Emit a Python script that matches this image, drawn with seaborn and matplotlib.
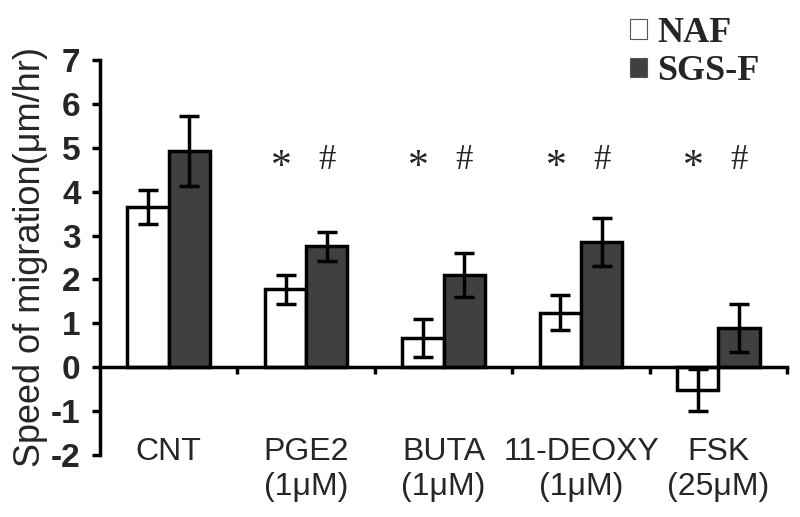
import pandas as pd
import matplotlib.pyplot as plt
import seaborn as sns
from matplotlib.patches import Patch

groups = ['CNT', 'PGE2\n(1μM)', 'BUTA\n(1μM)', '11-DEOXY\n(1μM)', 'FSK\n(25μM)']
series = ['NAF', 'SGS-F']
naf = [3.65, 1.78, 0.66, 1.24, -0.52]
naf_err = [0.38, 0.33, 0.43, 0.40, 0.48]
sgs = [4.93, 2.76, 2.10, 2.86, 0.90]
sgs_err = [0.80, 0.33, 0.50, 0.55, 0.55]
sig_naf = ['', '*', '*', '*', '*']
sig_sgs = ['', '#', '#', '#', '#']
colors = {'NAF': 'white', 'SGS-F': '#404040'}

df = pd.DataFrame({
    'group': groups * 2,
    'speed': naf + sgs,
    'series': [series[0]] * 5 + [series[1]] * 5,
})

sns.set_style('white')
plt.rcParams['font.family'] = ['Liberation Sans', 'DejaVu Sans']
plt.rcParams['axes.unicode_minus'] = False

fig, ax = plt.subplots(figsize=(8, 5.17), dpi=100)
fig.subplots_adjust(left=0.125, right=0.984, top=0.884, bottom=0.12)

lw = 2.5
sns.barplot(data=df, x='group', y='speed', hue='series', order=groups,
            hue_order=series, palette=colors,
            edgecolor='black', linewidth=lw, width=0.6, errorbar=None,
            legend=False, ax=ax)

# error bars and significance marks on top of the seaborn bars
for cont, vals, errs, sig in zip(ax.containers, [naf, sgs], [naf_err, sgs_err],
                                 [sig_naf, sig_sgs]):
    xs = [p.get_x() + p.get_width() / 2 for p in cont.patches]
    ax.errorbar(xs, vals, yerr=errs, fmt='none', ecolor='black',
                elinewidth=lw, capsize=7, capthick=lw, zorder=5)
    for x, s in zip(xs, sig):
        if s == '*':
            ax.text(x - 0.03, 4.55, s, ha='center', va='center', fontsize=30,
                    family='Liberation Serif')
        elif s:
            ax.text(x, 4.7, s, ha='center', va='center', fontsize=25,
                    family='Liberation Serif')

ax.set_xlim(-0.5, 4.5)
ax.set_ylim(-2, 7)
ax.set_yticks(range(-2, 8))
ax.spines['top'].set_visible(False)
ax.spines['right'].set_visible(False)
ax.spines['bottom'].set_position(('data', 0))
for sp in ['left', 'bottom']:
    ax.spines[sp].set_linewidth(lw)
    ax.spines[sp].set_color('black')

ax.set_xticks(range(5))
ax.set_xticklabels([])
ax.tick_params(axis='x', which='major', length=0)
ax.set_xticks([i + 0.5 for i in range(5)], minor=True)
ax.tick_params(axis='x', which='minor', length=5, width=lw, direction='out',
               color='black', bottom=True)
ax.tick_params(axis='y', length=6, width=lw, direction='out', color='black',
               left=True, labelsize=24, pad=8)
for t in ax.get_yticklabels():
    t.set_fontweight('bold')

for i, g in enumerate(groups):
    ax.text(i, -1.6, g, ha='center', va='top', fontsize=23,
            linespacing=1.2, clip_on=False)

ax.set_xlabel('')
ax.set_ylabel('Speed of migration(μm/hr)', fontsize=26, labelpad=2)

handles = [Patch(facecolor=colors[s], edgecolor='#555555', linewidth=0.8)
           for s in series]
fig.legend(handles, series, loc='upper left',
           bbox_to_anchor=(0.77, 0.995), frameon=False,
           prop={'family': 'Liberation Serif', 'weight': 'bold', 'size': 26},
           handlelength=0.45, handleheight=0.45, handletextpad=0.3,
           labelspacing=0.15, borderaxespad=0)

fig.savefig('out.png', dpi=100)
